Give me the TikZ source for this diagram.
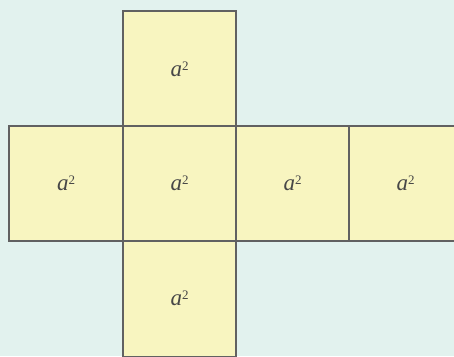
\documentclass[tikz,border=0pt]{standalone}
\usepackage{fontspec}
\setmainfont{Liberation Serif}
\begin{document}
\begin{tikzpicture}[x=1pt,y=-1pt,
  face/.style={draw=black!62,line width=2pt,fill=facecol,line join=miter},
  lab/.style={text=black!72,font=\fontsize{23}{26}\selectfont}]
\definecolor{facecol}{HTML}{F8F5C0}
\definecolor{bgcol}{HTML}{E2F2EE}
\fill[bgcol] (0,0) rectangle (454,356);
\useasboundingbox (0,0) rectangle (454,356);
\clip (0,0) rectangle (454,356);
% column edges 9,123,236,349,462 ; row edges 11,126,241,357
\draw[face] (123,11) rectangle (236,126);
\draw[face] (9,126) rectangle (123,241);
\draw[face] (123,126) rectangle (236,241);
\draw[face] (236,126) rectangle (349,241);
\draw[face] (349,126) rectangle (462,241);
\draw[face] (123,241) rectangle (236,357);
\newcommand\asq{\textit{a}\raisebox{0.6ex}{\fontsize{13}{14}\selectfont 2}}
\node[lab] (top) at (179.5,69) {\asq};
\node[lab] (left) at (66,183.5) {\asq};
\node[lab] (mid) at (179.5,183.5) {\asq};
\node[lab] (right) at (292.5,183.5) {\asq};
\node[lab] (far) at (405.5,183.5) {\asq};
\node[lab] (bot) at (179.5,298) {\asq};
\end{tikzpicture}
\end{document}
